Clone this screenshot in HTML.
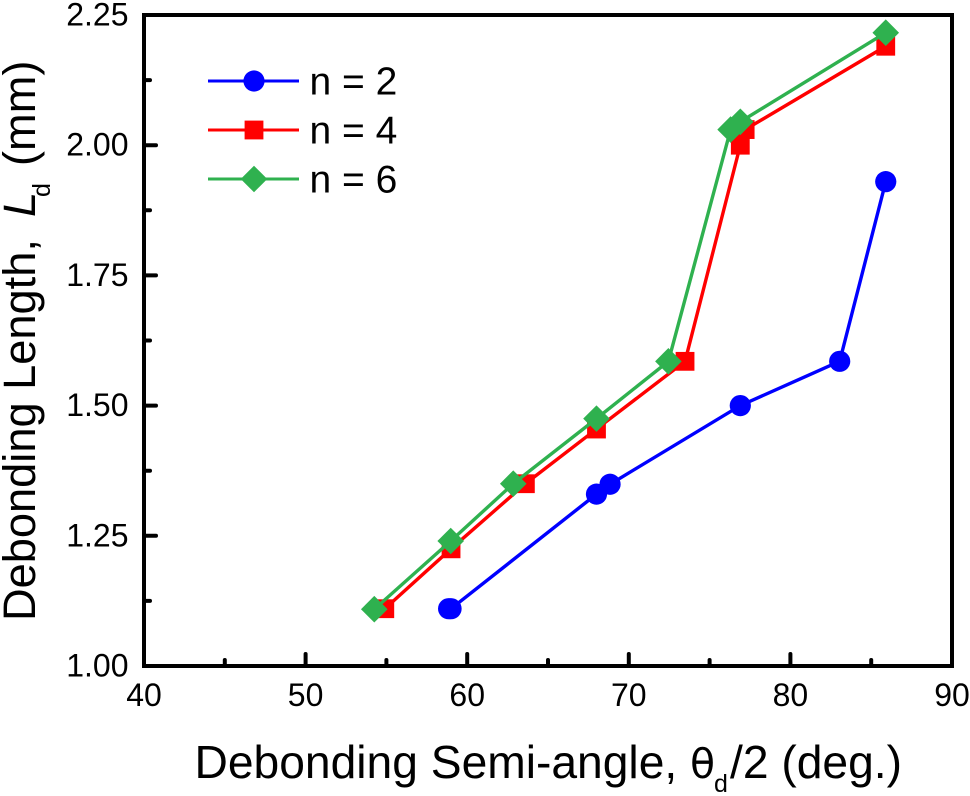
<!DOCTYPE html>
<html lang="en">
<head>
<meta charset="utf-8">
<title>Debonding Length vs Semi-angle</title>
<style>
html,body{margin:0;padding:0;background:#fff;}
svg{display:block;font-family:"Liberation Sans",Arial,sans-serif;}
</style>
</head>
<body>
<svg id="chart" xmlns="http://www.w3.org/2000/svg" width="970" height="796" viewBox="0 0 970 796">
  <rect x="0" y="0" width="970" height="796" fill="#fff"/>
  <g id="series-layer"></g>
  <rect x="144" y="15" width="808" height="651" fill="none" stroke="#000" stroke-width="4"/>
  <g id="tick-layer"></g>
  <g id="legend-layer"></g>
  <g fill="#000">
    <text x="194.5" y="778" font-size="46.2">Debonding Semi-angle,</text>
    <text x="690" y="778" font-size="41" font-family="'DejaVu Sans',sans-serif">θ</text>
    <text x="714" y="792" font-size="25">d</text>
    <text x="730" y="778" font-size="46.2">/2 (deg.)</text>
  </g>
  <g fill="#000" transform="translate(35,621) rotate(-90)">
    <text x="0" y="0" font-size="45.2">Debonding Length,</text>
    <text x="404" y="0" font-size="45.2" font-style="italic">L</text>
    <text x="424" y="15" font-size="25">d</text>
    <text x="455" y="0" font-size="45.2">(mm)</text>
  </g>
</svg>
<script>
var xTicks = [40, 50, 60, 70, 80, 90];
var xMinorTicks = [45, 55, 65, 75, 85];
var yTicks = [1.00, 1.25, 1.50, 1.75, 2.00, 2.25];
var yMinorTicks = [1.125, 1.375, 1.625, 1.875, 2.125];

var legendLabels = ['n = 2', 'n = 4', 'n = 6'];

var n2Angles = [58.85, 59.0, 68, 68.84, 76.9, 83.05, 85.9];
var n2Lengths = [1.11, 1.11, 1.33, 1.349, 1.50, 1.585, 1.93];
var n4Angles = [54.9, 59, 63.6, 68, 73.48, 76.9, 77.2, 85.9];
var n4Lengths = [1.11, 1.225, 1.35, 1.455, 1.585, 2.00, 2.03, 2.19];
var n6Angles = [54.25, 58.98, 62.85, 68, 72.45, 76.3, 76.9, 85.9];
var n6Lengths = [1.109, 1.24, 1.35, 1.475, 1.585, 2.03, 2.045, 2.216];

var NS = 'http://www.w3.org/2000/svg';
var PLOT = { left: 144, right: 952, top: 15, bottom: 666 };

function xScale(v) {
  return PLOT.left + (v - 40) / (90 - 40) * (PLOT.right - PLOT.left);
}
function yScale(v) {
  return PLOT.bottom - (v - 1) / (2.25 - 1) * (PLOT.bottom - PLOT.top);
}
function make(tag, attrs) {
  var el = document.createElementNS(NS, tag);
  for (var k in attrs) { el.setAttribute(k, attrs[k]); }
  return el;
}
function marker(shape, cx, cy, color) {
  if (shape === 'circle') {
    return make('circle', { cx: cx, cy: cy, r: 10.6, fill: color });
  }
  if (shape === 'square') {
    return make('rect', { x: cx - 9.4, y: cy - 9.4, width: 18.8, height: 18.8, fill: color });
  }
  var s = 13.3;
  return make('polygon', {
    points: cx + ',' + (cy - s) + ' ' + (cx + s) + ',' + cy + ' ' + cx + ',' + (cy + s) + ' ' + (cx - s) + ',' + cy,
    fill: color
  });
}

var seriesLayer = document.getElementById('series-layer');
var tickLayer = document.getElementById('tick-layer');
var legendLayer = document.getElementById('legend-layer');

function drawSeries(key, xs, ys, color, shape) {
  var g = make('g', {});
  
  
  var pts = xs.map(function (x, i) { return xScale(x) + ',' + yScale(ys[i]); }).join(' ');
  var line = make('polyline', { points: pts, fill: 'none', stroke: color, 'stroke-width': 3.4 });
  
  
  g.appendChild(line);
  xs.forEach(function (x, i) {
    var m = marker(shape, xScale(x), yScale(ys[i]), color);
    
    
    g.appendChild(m);
  });
  seriesLayer.appendChild(g);
}
drawSeries('n-2', n2Angles, n2Lengths, '#0000ff', 'circle');
drawSeries('n-4', n4Angles, n4Lengths, '#ff0000', 'square');
drawSeries('n-6', n6Angles, n6Lengths, '#2fb14f', 'diamond');

function tickLine(x1, y1, x2, y2, name) {
  var t = make('line', { x1: x1, y1: y1, x2: x2, y2: y2, stroke: '#000', 'stroke-width': 4, 'stroke-linecap': 'round' });
  
  
  tickLayer.appendChild(t);
}
function tickText(x, y, anchor, str, name) {
  var t = make('text', { x: x, y: y, 'text-anchor': anchor, 'font-size': 32, fill: '#000' });
  t.textContent = str;
  
  
  tickLayer.appendChild(t);
}
xTicks.forEach(function (v) {
  tickLine(xScale(v), PLOT.bottom, xScale(v), PLOT.bottom - 12, 'x-major-tick');
  tickText(xScale(v), 706, 'middle', String(v), 'x-tick-label');
});
xMinorTicks.forEach(function (v) {
  tickLine(xScale(v), PLOT.bottom, xScale(v), PLOT.bottom - 6, 'x-minor-tick');
});
yTicks.forEach(function (v) {
  tickLine(PLOT.left, yScale(v), PLOT.left + 12, yScale(v), 'y-major-tick');
  tickText(128.5, yScale(v) + 10.5, 'end', v.toFixed(2), 'y-tick-label');
});
yMinorTicks.forEach(function (v) {
  tickLine(PLOT.left, yScale(v), PLOT.left + 6, yScale(v), 'y-minor-tick');
});

var legendColors = ['#0000ff', '#ff0000', '#2fb14f'];
var legendShapes = ['circle', 'square', 'diamond'];
legendLabels.forEach(function (label, i) {
  var y = 81 + i * 49;
  var g = make('g', {});
  
  
  var l = make('line', { x1: 208, y1: y, x2: 299, y2: y, stroke: legendColors[i], 'stroke-width': 3 });
  
  
  g.appendChild(l);
  var m = marker(legendShapes[i], 254, y, legendColors[i]);
  
  
  g.appendChild(m);
  var t = make('text', { x: 309.5, y: y + 13.3, 'font-size': 39, fill: '#000' });
  t.textContent = label;
  
  
  g.appendChild(t);
  legendLayer.appendChild(g);
});
</script>
</body>
</html>
